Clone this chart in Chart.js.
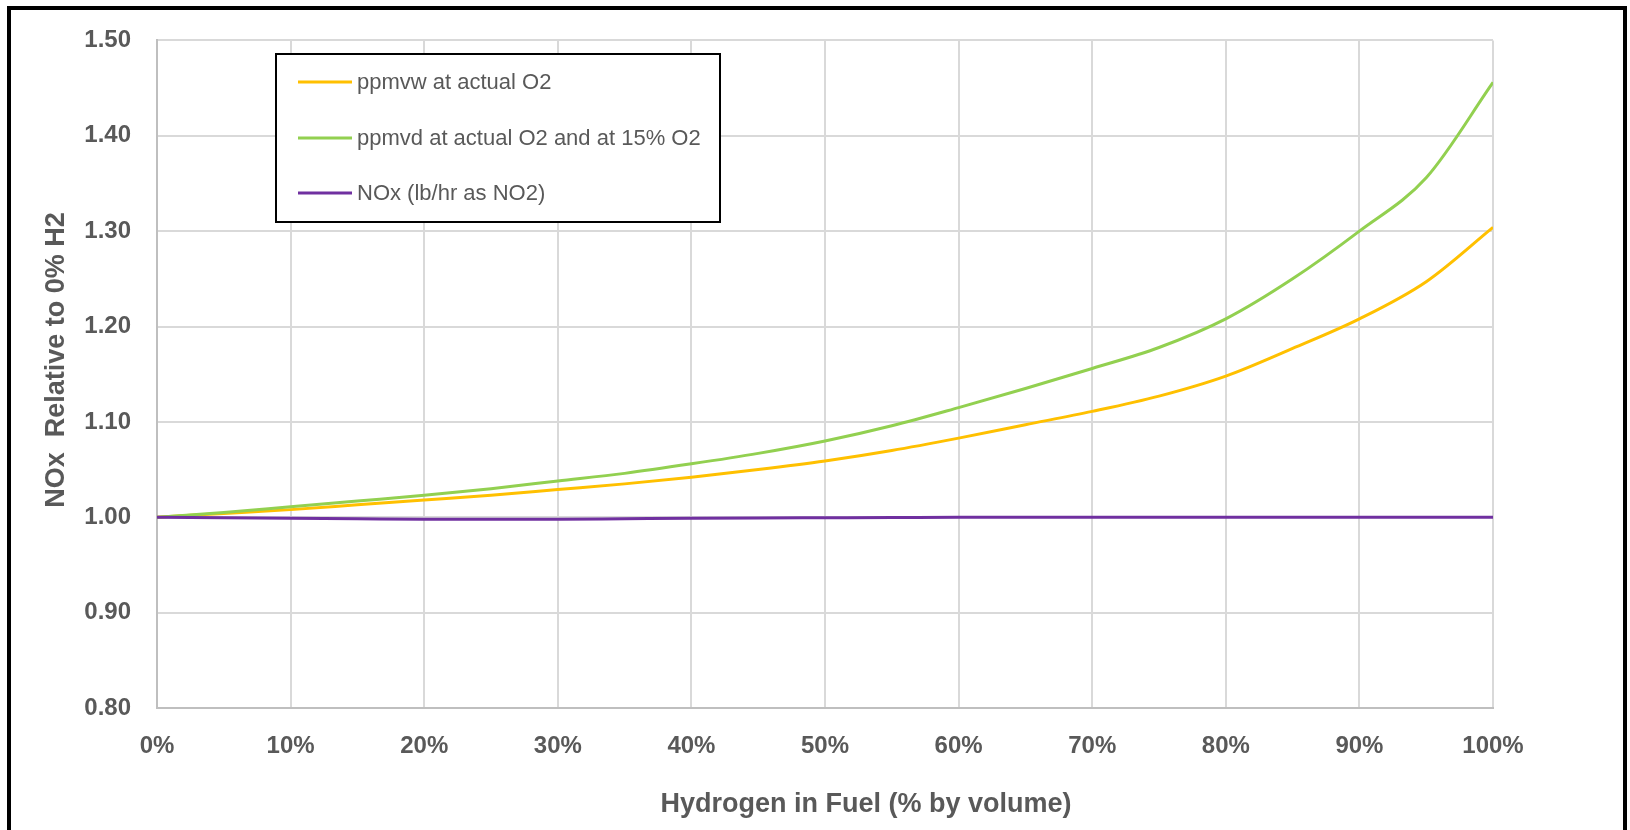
<!DOCTYPE html>
<html>
<head>
<meta charset="utf-8">
<script src="https://cdn.jsdelivr.net/npm/chart.js@4.4.1/dist/chart.umd.min.js"></script>
<style>
  html, body { margin: 0; padding: 0; background: #ffffff; }
  #wrap { position: relative; width: 1630px; height: 830px; }
  canvas { display: block; }
</style>
</head>
<body>
<div id="wrap"><canvas id="c" width="1630" height="830"></canvas></div>
<script>
// ---- data ----
const hydrogenPct = [0, 5, 10, 15, 20, 25, 30, 35, 40, 45, 50, 55, 60, 65, 70, 75, 80, 85, 90, 95, 100];
const ppmvwActualO2 = [1.000, 1.004, 1.008, 1.013, 1.018, 1.023, 1.029, 1.035, 1.042, 1.050, 1.059, 1.070, 1.083, 1.097, 1.111, 1.127, 1.148, 1.177, 1.208, 1.247, 1.304];
const ppmvdActualAnd15O2 = [1.000, 1.005, 1.011, 1.017, 1.023, 1.030, 1.038, 1.046, 1.056, 1.067, 1.080, 1.096, 1.115, 1.135, 1.156, 1.178, 1.208, 1.250, 1.300, 1.356, 1.456];
const noxLbHr = [1.000, 0.9995, 0.999, 0.9985, 0.998, 0.998, 0.998, 0.9985, 0.999, 0.9993, 0.9995, 0.9997, 1.000, 1.000, 1.000, 1.000, 1.000, 1.000, 1.000, 1.000, 1.000];
const seriesLabels = ['ppmvw at actual O2', 'ppmvd at actual O2 and at 15% O2', 'NOx (lb/hr as NO2)'];
const seriesColors = ['#FFC000', '#92D050', '#7030A0'];
const xTickValues = [0, 10, 20, 30, 40, 50, 60, 70, 80, 90, 100];
const yTickValues = [0.80, 0.90, 1.00, 1.10, 1.20, 1.30, 1.40, 1.50];
const xAxisTitle = 'Hydrogen in Fuel (% by volume)';
const yAxisTitle = 'NOx  Relative to 0% H2';

const FONT = '"Liberation Sans", Arial, sans-serif';
const GREY = '#595959';

function pts(ys) { return hydrogenPct.map((x, i) => ({ x: x, y: ys[i] })); }

const seriesValues = [ppmvwActualO2, ppmvdActualAnd15O2, noxLbHr];
const datasets = seriesValues.map((ys, i) => ({
  label: seriesLabels[i],
  data: pts(ys),
  borderColor: seriesColors[i],
  backgroundColor: seriesColors[i],
  borderWidth: 3,
  pointRadius: 0,
  cubicInterpolationMode: 'monotone',
  fill: false,
  order: 3 - i
}));

const decorPlugin = {
  id: 'decor',
  beforeDraw(chart) {
    const ctx = chart.ctx;
    ctx.save();
    ctx.fillStyle = '#ffffff';
    ctx.fillRect(0, 0, chart.width, chart.height);
    ctx.restore();
  },
  afterDraw(chart) {
    const ctx = chart.ctx;
    ctx.save();
    // outer frame
    ctx.strokeStyle = '#000000';
    ctx.lineWidth = 4;
    ctx.beginPath();
    ctx.moveTo(9, 840);
    ctx.lineTo(9, 8);
    ctx.lineTo(1625, 8);
    ctx.lineTo(1625, 840);
    ctx.stroke();

    // legend box
    ctx.fillStyle = '#ffffff';
    ctx.fillRect(276, 54, 444, 168);
    ctx.lineWidth = 2;
    ctx.strokeStyle = '#000000';
    ctx.strokeRect(276, 54, 444, 168);
    const rowY = [82, 138, 193];
    ctx.font = '22px ' + FONT;
    ctx.textBaseline = 'middle';
    ctx.textAlign = 'left';
    chart.data.datasets.forEach((ds, i) => {
      ctx.strokeStyle = ds.borderColor;
      ctx.lineWidth = 3;
      ctx.beginPath();
      ctx.moveTo(298, rowY[i]);
      ctx.lineTo(352, rowY[i]);
      ctx.stroke();
      ctx.fillStyle = GREY;
      ctx.fillText(ds.label, 357, rowY[i] + 1);
    });

    // axis titles
    ctx.fillStyle = GREY;
    ctx.font = 'bold 27px ' + FONT;
    ctx.textAlign = 'center';
    ctx.textBaseline = 'middle';
    ctx.fillText(xAxisTitle, 866, 805);
    ctx.translate(57, 360);
    ctx.rotate(-Math.PI / 2);
    ctx.fillText(yAxisTitle, 0, 0);
    ctx.restore();
  }
};

new Chart(document.getElementById('c'), {
  type: 'line',
  data: { datasets: datasets },
  options: {
    responsive: false,
    animation: false,
    devicePixelRatio: 1,
    layout: { padding: { left: 0, top: 39, right: 137, bottom: 0 } },
    plugins: {
      legend: { display: false },
      tooltip: { enabled: false }
    },
    scales: {
      x: {
        type: 'linear',
        min: 0,
        max: 100,
        afterBuildTicks(scale) { scale.ticks = xTickValues.map(v => ({ value: v })); },
        afterFit(scale) { scale.height = 122; },
        ticks: {
          callback: v => v + '%',
          color: GREY,
          font: { family: FONT, size: 24, weight: 'bold' },
          padding: 24,
          maxRotation: 0,
          autoSkip: false
        },
        grid: { color: '#d9d9d9', lineWidth: 2, drawTicks: false },
        border: { color: '#bfbfbf', width: 2 },
        title: { display: false, text: xAxisTitle }
      },
      y: {
        type: 'linear',
        min: 0.8,
        max: 1.5,
        afterBuildTicks(scale) { scale.ticks = yTickValues.map(v => ({ value: v })); },
        afterFit(scale) { scale.width = 157; },
        ticks: {
          callback: v => Number(v).toFixed(2),
          color: GREY,
          font: { family: FONT, size: 24, weight: 'bold' },
          padding: 26
        },
        grid: { color: '#d9d9d9', lineWidth: 2, drawTicks: false },
        border: { color: '#bfbfbf', width: 2 },
        title: { display: false, text: yAxisTitle }
      }
    }
  },
  plugins: [decorPlugin]
});
</script>
</body>
</html>
